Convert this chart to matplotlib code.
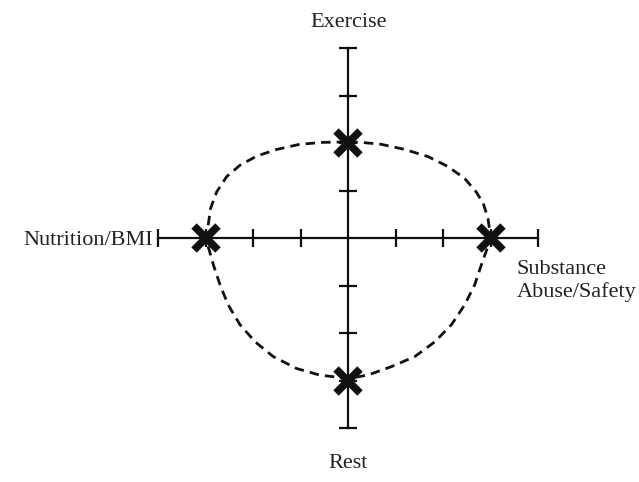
#!/usr/bin/env python
# -*- coding: utf-8 -*-
import matplotlib
matplotlib.use("Agg")
import matplotlib.pyplot as plt

# tick positions (units along each arm)
tick_units = [-4, -3, -2, -1, 1, 2, 3, 4]
arm_end = 4

# scores marked with an X on each arm
score_x = [0, 3, 0, -3]
score_y = [2, 0, -3, 0]

# dashed outline (clockwise from the top)
curve_x = [0.0, 0.27, 0.69, 1.19, 1.68, 2.10, 2.45, 2.69, 2.84, 2.94, 3.0,
           2.80, 2.66, 2.45, 2.17, 1.82, 1.40, 0.91, 0.41, 0.0,
           -0.60, -1.09, -1.58, -1.96, -2.28, -2.53, -2.70, -2.84, -3.0,
           -2.95, -2.90, -2.77, -2.56, -2.28, -1.93, -1.51, -1.02, -0.53, 0.0]
curve_y = [2.03, 2.02, 1.98, 1.87, 1.72, 1.51, 1.26, 0.98, 0.74, 0.42, 0.0,
           -0.56, -0.98, -1.40, -1.82, -2.18, -2.49, -2.70, -2.88, -2.95,
           -2.88, -2.74, -2.49, -2.18, -1.82, -1.40, -0.98, -0.56, 0.0,
           0.28, 0.63, 0.98, 1.30, 1.54, 1.73, 1.87, 1.98, 2.02, 2.03]

fig = plt.figure(figsize=(6.39, 4.82), dpi=100)
ax = fig.add_axes([0, 0, 1, 1])
ax.set_xlim(-7.333, 6.12)
ax.set_ylim(-5.13, 5.017)
ax.axis("off")

lw = 1.6
# the two axes
ax.plot([-arm_end, arm_end], [0, 0], color="#111111", lw=lw, zorder=2)
ax.plot([0, 0], [-arm_end, arm_end], color="#111111", lw=lw, zorder=2)
# tick marks
ax.plot(tick_units, [0] * len(tick_units), ls="none", marker="|",
        ms=13, mew=lw, color="#111111", zorder=2)
ax.plot([0] * len(tick_units), tick_units, ls="none", marker="_",
        ms=13, mew=lw, color="#111111", zorder=2)

# dashed outline and scores
ax.plot(curve_x, curve_y, color="#111111", lw=2.0,
        linestyle=(0, (3.4, 2.2)), zorder=3)
ax.plot(score_x, score_y, ls="none", marker="x", ms=17, mew=5.5,
        color="#111111", zorder=4)

font = dict(family="Liberation Serif", fontsize=16, color="#222222")
ax.text(0, 4.55, "Exercise", ha="center", va="center", **font)
ax.text(0, -4.75, "Rest", ha="center", va="center", **font)
ax.text(-4.12, -0.05, "Nutrition/BMI", ha="right", va="center", **font)
ax.text(3.55, -0.45, "Substance\nAbuse/Safety", ha="left", va="top",
        linespacing=1.2, **font)

fig.savefig("out.png", dpi=100)
